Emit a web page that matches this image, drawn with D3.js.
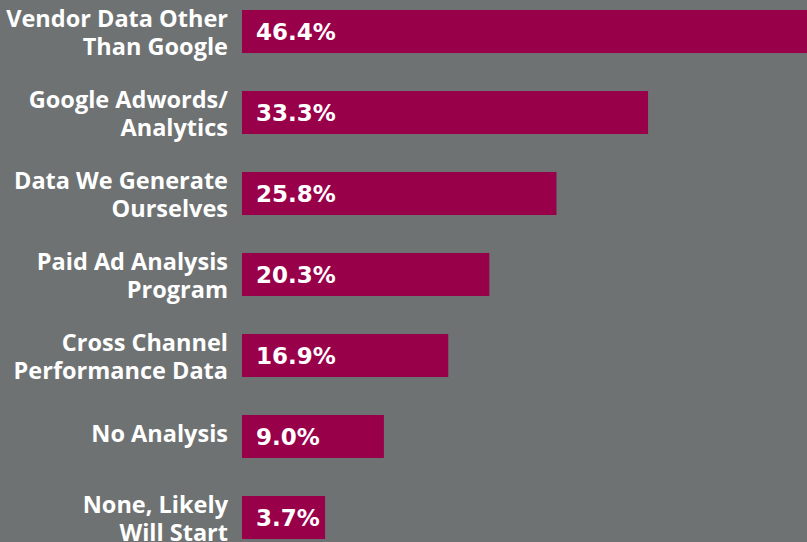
<!DOCTYPE html>
<html>
<head>
<meta charset="utf-8">
<script src="https://cdn.jsdelivr.net/npm/d3@7"></script>
<style>
  html, body { margin: 0; padding: 0; background: #6e7272; }
  svg { display: block; }
</style>
</head>
<body>
<svg id="chart" width="807" height="542"></svg>
<script>
// Data
const categories = [
  "Vendor Data Other\nThan Google",
  "Google Adwords/\nAnalytics",
  "Data We Generate\nOurselves",
  "Paid Ad Analysis\nProgram",
  "Cross Channel\nPerformance Data",
  "No Analysis",
  "None, Likely\nWill Start"
];
const values = [46.4, 33.3, 25.8, 20.3, 16.9, 9.0, 3.7];
const valueLabels = ["46.4%", "33.3%", "25.8%", "20.3%", "16.9%", "9.0%", "3.7%"];

const W = 807, H = 542;
const svg = d3.select("#chart");
svg.append("rect").attr("width", W).attr("height", H).attr("fill", "#6e7272");

const x0 = 242;
// bar length scale (the original infographic pads the short bars)
const x = d3.scaleLinear().domain([0, 10, 17, 50]).range([x0 + 42, x0 + 153, x0 + 207, x0 + 610]);

const y = d3.scaleBand().domain(categories).range([10, 539]).paddingInner(0.469).paddingOuter(0);

const rows = svg.selectAll("g.row").data(categories.map((c, i) => ({c, v: values[i], lbl: valueLabels[i]})))
  .enter().append("g").attr("class", "row");

rows.append("rect")
  .attr("x", x0)
  .attr("y", d => y(d.c))
  .attr("width", d => x(d.v) - x0)
  .attr("height", y.bandwidth())
  .attr("fill", "#99004a");

rows.append("text")
  .attr("x", x0 + 14)
  .attr("y", d => y(d.c) + y.bandwidth() / 2 + 8.5)
  .attr("fill", "#ffffff")
  .attr("font-family", "'DejaVu Sans', sans-serif")
  .attr("font-weight", 700)
  .attr("font-size", 23)
  .text(d => d.lbl);

const lineH = 28;
rows.each(function(d) {
  const lines = d.c.split("\n");
  const g = d3.select(this);
  const cy = y(d.c) + y.bandwidth() / 2;
  const first = lines.length > 1 ? cy - 4.5 : cy + 6;
  const t = g.append("text")
    .attr("text-anchor", "end")
    .attr("fill", "#ffffff")
    .attr("font-family", "'Open Sans', sans-serif")
    .attr("font-weight", 700)
    .attr("font-size", 23.5);
  lines.forEach((ln, i) => {
    t.append("tspan").attr("x", 228).attr("y", first + i * lineH).text(ln);
  });
});
</script>
</body>
</html>
